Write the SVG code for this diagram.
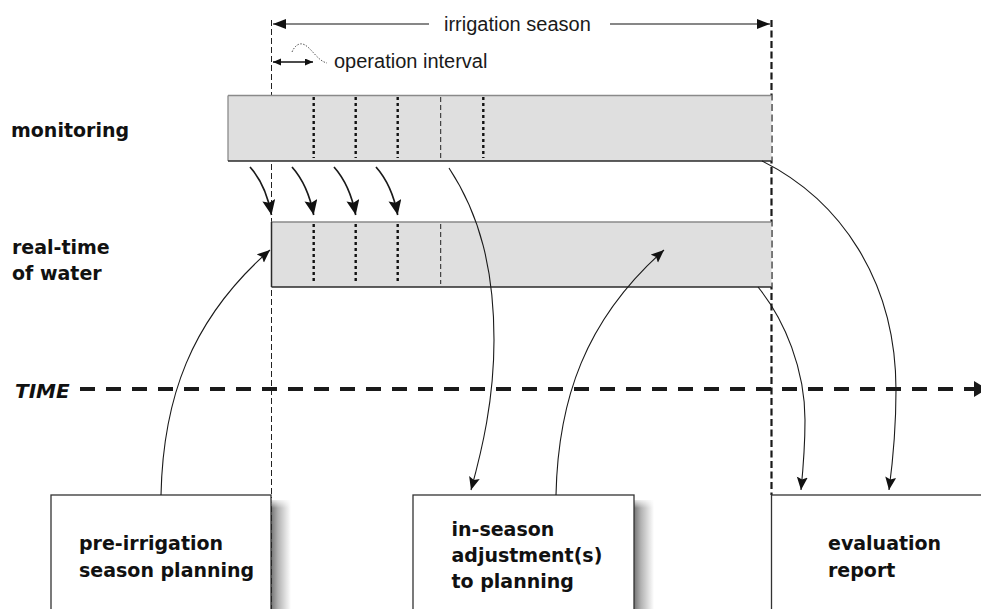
<svg xmlns="http://www.w3.org/2000/svg" width="981" height="609" viewBox="0 0 981 609">
  <style>
    .lbl { font-family: "DejaVu Sans", "Liberation Sans", sans-serif; font-weight: bold; font-size: 19px; fill: #111; }
    .time { font-family: "DejaVu Sans", "Liberation Sans", sans-serif; font-weight: bold; font-style: italic; font-size: 20px; fill: #111; }
    .note { font-family: "Liberation Sans", Arial, sans-serif; font-size: 20px; fill: #1a1a1a; }
    .bar { fill: #dfdfdf; stroke: none; }
    .barTop { stroke: #8a8a8a; stroke-width: 1.3; }
    .barEdge { stroke: #2a2a2a; stroke-width: 1.5; }
    .box { fill: #fff; stroke: #333; stroke-width: 1.3; }
    .tick { stroke: #111; stroke-width: 2.4; stroke-dasharray: 3 3; }
    .tickThin { stroke: #222; stroke-width: 1; stroke-dasharray: 5 3; }
    .guide { stroke: #222; stroke-width: 1; stroke-dasharray: 6 3; fill: none; }
    .guideBold { stroke: #1a1a1a; stroke-width: 2.2; stroke-dasharray: 7 3.5; fill: none; }
    .flow { fill: none; stroke: #1a1a1a; stroke-width: 1.1; marker-end: url(#headThin); }
    .step { fill: none; stroke: #1a1a1a; stroke-width: 1.7; marker-end: url(#headBig); }
  </style>
  <defs>
    <marker id="headBig" markerUnits="userSpaceOnUse" markerWidth="16" markerHeight="14" refX="15" refY="6.5" orient="auto">
      <path d="M0,0 L15,6.5 L0,13 L2.5,6.5 z" fill="#111"/>
    </marker>
    <marker id="headThin" markerUnits="userSpaceOnUse" markerWidth="14" markerHeight="12" refX="13" refY="5.5" orient="auto">
      <path d="M0,0 L13,5.5 L0,11 L2.5,5.5 z" fill="#111"/>
    </marker>
    <marker id="headSpan" markerUnits="userSpaceOnUse" markerWidth="14" markerHeight="12" refX="13" refY="5" orient="auto">
      <path d="M0,0 L13,5 L0,10 z" fill="#111"/>
    </marker>
    <marker id="headSmall" markerUnits="userSpaceOnUse" markerWidth="9" markerHeight="8" refX="8" refY="3.5" orient="auto-start-reverse">
      <path d="M0,0 L8,3.5 L0,7 z" fill="#111"/>
    </marker>
    <linearGradient id="shade" x1="0" y1="0" x2="1" y2="0">
      <stop offset="0" stop-color="#000" stop-opacity="0.55"/>
      <stop offset="0.35" stop-color="#000" stop-opacity="0.3"/>
      <stop offset="1" stop-color="#000" stop-opacity="0"/>
    </linearGradient>
    <linearGradient id="shadeTop" x1="0" y1="0" x2="0" y2="1">
      <stop offset="0" stop-color="#fff" stop-opacity="1"/>
      <stop offset="1" stop-color="#fff" stop-opacity="0"/>
    </linearGradient>
  </defs>

  <!-- season span -->
  <g id="season">
    <line class="guide" x1="271.5" y1="20" x2="271.5" y2="609"/>
    <line class="guideBold" x1="771.5" y1="20" x2="771.5" y2="495"/>
    <line x1="429" y1="24" x2="273" y2="24" stroke="#111" stroke-width="1.2" marker-end="url(#headSpan)"/>
    <line x1="610" y1="24" x2="770" y2="24" stroke="#111" stroke-width="1.2" marker-end="url(#headSpan)"/>
    <text class="note" x="444" y="31">irrigation season</text>
  </g>

  <g id="interval">
    <line x1="273" y1="62" x2="313" y2="62" stroke="#111" stroke-width="1.6" marker-start="url(#headSmall)" marker-end="url(#headSmall)"/>
    <path d="M292,52 C295,45 300,42 305,45 C312,49 318,61 327,63" fill="none" stroke="#555" stroke-width="1" stroke-dasharray="1.5 1.5"/>
    <text class="note" x="334" y="68">operation interval</text>
  </g>

  <!-- monitoring row -->
  <g id="monitoring">
    <text class="lbl" x="11" y="137">monitoring</text>
    <rect class="bar" x="228" y="95.5" width="543.5" height="65.5"/>
    <line class="barTop" x1="228" y1="95.5" x2="771.5" y2="95.5"/>
    <line class="barTop" x1="228" y1="95.5" x2="228" y2="161"/>
    <line class="barEdge" x1="228" y1="161" x2="771.5" y2="161"/>
    <line class="tick" x1="313.7" y1="97" x2="313.7" y2="158"/>
    <line class="tick" x1="355.7" y1="97" x2="355.7" y2="158"/>
    <line class="tick" x1="397.7" y1="97" x2="397.7" y2="158"/>
    <line class="tickThin" x1="440.7" y1="97" x2="440.7" y2="158"/>
    <line class="tick" x1="483.3" y1="97" x2="483.3" y2="158"/>
  </g>

  <!-- real-time row -->
  <g id="realtime">
    <text class="lbl" x="12" y="254">real-time</text>
    <text class="lbl" x="12" y="280">of water</text>
    <rect class="bar" x="271.5" y="222" width="500" height="65"/>
    <line class="barTop" x1="271.5" y1="222" x2="771.5" y2="222"/>
    <line class="barEdge" x1="271.5" y1="222" x2="271.5" y2="287"/>
    <line class="barEdge" x1="271.5" y1="287" x2="771.5" y2="287"/>
    <line class="tick" x1="313.7" y1="224" x2="313.7" y2="284"/>
    <line class="tick" x1="355.7" y1="224" x2="355.7" y2="284"/>
    <line class="tick" x1="397.7" y1="224" x2="397.7" y2="284"/>
    <line class="tickThin" x1="440.7" y1="224" x2="440.7" y2="284"/>
  </g>

  <!-- time axis -->
  <g id="time">
    <text class="time" x="15" y="398">TIME</text>
    <line x1="80" y1="389" x2="975" y2="389" stroke="#1a1a1a" stroke-width="4.2" stroke-dasharray="15 11"/>
    <polygon points="974,381 987,389 974,397" fill="#1a1a1a"/>
  </g>

  <!-- planning and reporting boxes -->
  <g id="pre-irrigation">
    <rect x="271" y="500" width="20" height="115" fill="url(#shade)"/>
    <rect x="271" y="498" width="20" height="10" fill="url(#shadeTop)"/>
    <rect class="box" x="51" y="495" width="220" height="120"/>
    <text class="lbl" x="79" y="550">pre-irrigation</text>
    <text class="lbl" x="79" y="577">season planning</text>
  </g>

  <g id="in-season">
    <rect x="634" y="500" width="20" height="115" fill="url(#shade)"/>
    <rect x="634" y="498" width="20" height="10" fill="url(#shadeTop)"/>
    <rect class="box" x="413" y="495" width="221" height="120"/>
    <text class="lbl" x="451.5" y="536">in-season</text>
    <text class="lbl" x="451.5" y="562">adjustment(s)</text>
    <text class="lbl" x="451.5" y="588">to planning</text>
  </g>

  <g id="evaluation">
    <rect class="box" x="771.5" y="495" width="220" height="120"/>
    <text class="lbl" x="828" y="550">evaluation</text>
    <text class="lbl" x="828" y="577">report</text>
  </g>

  <!-- connectors -->
  <g id="connectors">
    <path class="step" d="M250,167 Q266,185 271.5,215"/>
    <path class="step" d="M292,167 Q308,185 313.7,215"/>
    <path class="step" d="M334,167 Q350,185 355.7,215"/>
    <path class="step" d="M376,167 Q392,185 397.7,215"/>
    <path class="flow" d="M449,168 C480,215 494,270 494,340 C494,400 482,450 471,490"/>
    <path class="flow" d="M161,495 C163,400 190,320 270,250"/>
    <path class="flow" d="M556,495 C558,400 585,320 664,250"/>
    <path class="flow" d="M762,161 C840,200 896,280 896,390 C896,430 893,460 889,490"/>
    <path class="flow" d="M758,287 C785,320 805,370 805,420 C805,450 803,470 801,490"/>
  </g>
</svg>
